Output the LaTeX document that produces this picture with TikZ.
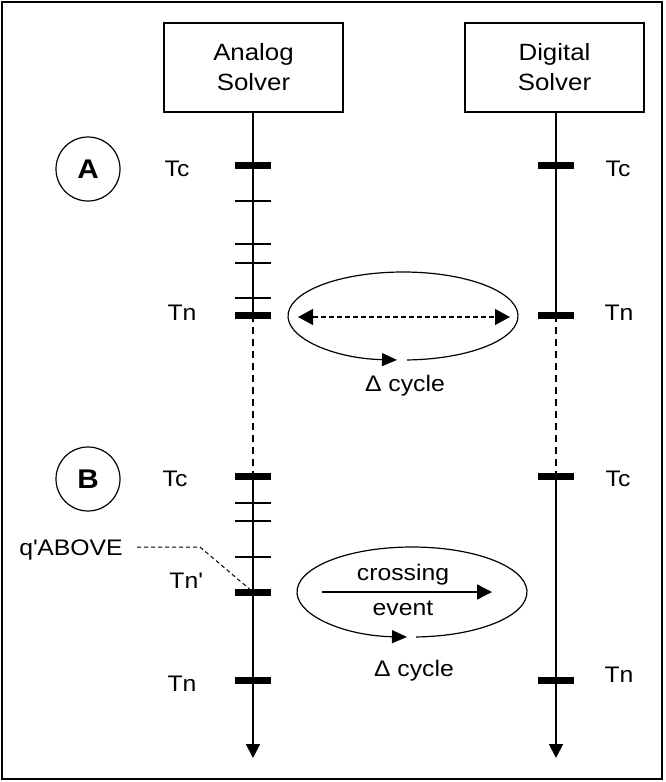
\documentclass[tikz,border=0pt]{standalone}
\usepackage{fontspec}
\setmainfont{Liberation Sans}[FakeStretch=1.1]
\usetikzlibrary{arrows.meta}
\begin{document}
\begin{tikzpicture}[x=1pt,y=-1pt,
  solver/.style={draw, line width=1.7pt, minimum width=179pt, minimum height=89pt, inner sep=0pt, align=center, font=\fontsize{23.5}{30}\selectfont},
  bigtick/.style={fill=black, minimum width=36pt, minimum height=7pt, inner sep=0pt},
  smalltick/.style={fill=black, minimum width=36pt, minimum height=2pt, inner sep=0pt},
  lbl/.style={font=\fontsize{22.5}{26}\selectfont, inner sep=0pt, text height=16pt, text depth=0pt},
  phase/.style={circle, draw, line width=1.2pt, minimum size=64pt, inner sep=0pt, font=\bfseries\fontsize{27}{30}\selectfont},
  axis/.style={line width=1.8pt},
  axisdash/.style={line width=1.8pt, dash pattern=on 7pt off 5pt},
  tip/.style={-{Triangle[length=14pt,width=14pt]}},
  loop/.style={line width=1.2pt},
]
\useasboundingbox (0,0) rectangle (666,782);
\draw[line width=2pt] (1.5,1.5) rectangle (662,779);

% solvers
\node[solver] (as) at (253.5,67.5) {Analog\\Solver};
\node[solver] (ds) at (554.5,67.5) {Digital\\Solver};

% analog ticks
\node[bigtick]   (aTc)  at (253,165) {};
\node[smalltick] (a1)   at (253,201) {};
\node[smalltick] (a2)   at (253,244) {};
\node[smalltick] (a3)   at (253,263) {};
\node[smalltick] (a4)   at (253,298) {};
\node[bigtick]   (aTn)  at (253,315) {};
\node[bigtick]   (aTc2) at (253,476) {};
\node[smalltick] (b1)   at (253,503) {};
\node[smalltick] (b2)   at (253,521) {};
\node[smalltick] (b3)   at (253,557) {};
\node[bigtick]   (aTnp) at (253,592) {};
\node[bigtick]   (aTn2) at (253,680) {};
\coordinate (aend) at (253,758);

% digital ticks
\node[bigtick] (dTc)  at (556,165) {};
\node[bigtick] (dTn)  at (556,315) {};
\node[bigtick] (dTc2) at (556,476) {};
\node[bigtick] (dTn2) at (556,680) {};
\coordinate (dend) at (556,758);

% timelines
\draw[axis] (as.south -| aTc) -- (aTn.center);
\draw[axisdash] (aTn.center) -- (aTc2.center);
\draw[axis,tip] (aTc2.center) -- (aend);
\draw[axis] (ds.south -| dTc) -- (dTn.center);
\draw[axisdash] (dTn.center) -- (dTc2.center);
\draw[axis,tip] (dTc2.center) -- (dend);

% phase markers
\node[phase] (pA) at (88,169) {A};
\node[phase] (pB) at (88,479) {B};

% labels
\node[lbl] (lTcA)  at (177,168) {Tc};
\node[lbl] (lTnA)  at (182,312) {Tn};
\node[lbl] (rTcA)  at (618,168) {Tc};
\node[lbl] (rTnA)  at (619,312) {Tn};
\node[lbl] (lTcB)  at (175,478) {Tc};
\node[lbl] (lTnp)  at (186,580) {Tn\textquotesingle};
\node[lbl] (lTnB)  at (182,683) {Tn};
\node[lbl] (rTcB)  at (618,478) {Tc};
\node[lbl] (rTnB)  at (619,674) {Tn};
\node[lbl] (qab)   at (71,547) {q\textquotesingle ABOVE};

% q'ABOVE leader
\coordinate (qstart) at (137,547);
\coordinate (qbend) at (200,547);
\draw[line width=1pt, dash pattern=on 4pt off 3pt] (qstart) -- (qbend) -- (aTnp.center);

% ellipse A
\coordinate (eA) at (403,316);
\draw[loop,-{Triangle[length=15pt,width=13pt]}] ([shift={(88:115 and 44)}]eA) arc[start angle=88, end angle=-267, x radius=115, y radius=44];
\coordinate (eAl) at (298,317);
\coordinate (eAr) at (510,317);
\draw[line width=1.2pt, dash pattern=on 5pt off 3pt, {Triangle[length=15pt,width=16pt]}-{Triangle[length=15pt,width=16pt]}] (eAl) -- (eAr);
\node[lbl] (cycA) at (405,383) {Δ cycle};

% ellipse B
\coordinate (eB) at (412,592);
\draw[loop,-{Triangle[length=15pt,width=13pt]}] ([shift={(88:115 and 45)}]eB) arc[start angle=88, end angle=-267.5, x radius=115, y radius=45];
\coordinate (eBl) at (322,592);
\coordinate (eBr) at (492,592);
\draw[line width=1.4pt, -{Triangle[length=15pt,width=15pt]}] (eBl) -- (eBr);
\node[lbl] (cross) at (403,572) {crossing};
\node[lbl] (evt)   at (403,607) {event};
\node[lbl] (cycB)  at (414,668) {Δ cycle};
\end{tikzpicture}
\end{document}
